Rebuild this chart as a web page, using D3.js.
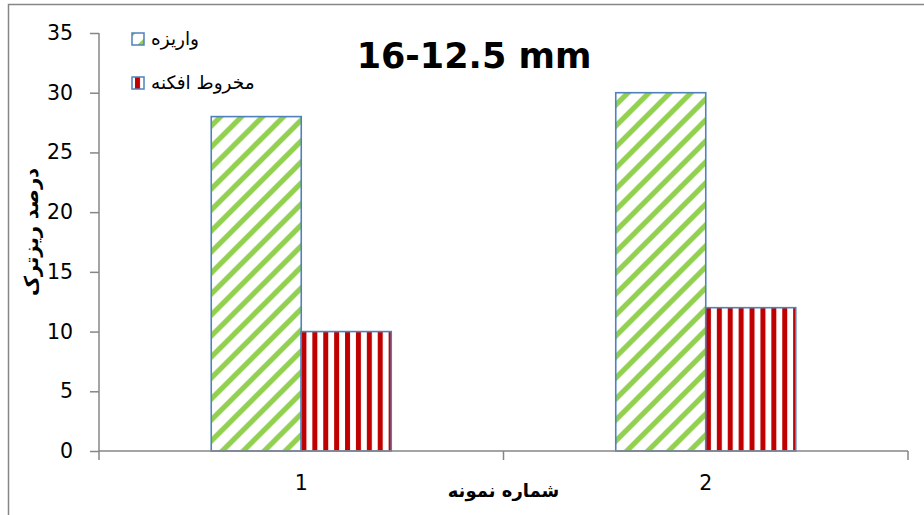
<!DOCTYPE html>
<html>
<head>
<meta charset="utf-8">
<script src="https://cdn.jsdelivr.net/npm/d3@7"></script>
<style>
  body { margin: 0; background: #fff; }
  svg { display: block; }
</style>
</head>
<body>
<svg id="chart" width="924" height="515"></svg>
<script>
// Sample numbers (x axis) and the two material series
const categories = ["1", "2"];
const seriesNames = ["واریزه", "مخروط افکنه"];
const varizehValues = [28, 30];
const makhrootValues = [10, 12];
const yTickValues = [0, 5, 10, 15, 20, 25, 30, 35];

const titleText = "16-12.5 mm";
const yAxisTitle = "درصد ریزترک";
const xAxisTitle = "شماره نمونه";

const seriesValues = [varizehValues, makhrootValues];
const rows = categories.map((c, i) => ({
  cat: c,
  vals: seriesNames.map((s, k) => ({ key: s, k, value: seriesValues[k][i] }))
}));

const svg = d3.select("#chart");
const W = 924, H = 515;
const plot = { left: 99, right: 908, top: 33, bottom: 451 };
const axisColor = "#868686";
const numFont = "'DejaVu Sans', sans-serif";
const arFont = "'DejaVu Sans', sans-serif";

// chart frame
svg.append("rect")
  .attr("x", 8.5).attr("y", 4.5)
  .attr("width", W + 20).attr("height", H + 20)
  .attr("fill", "#fff").attr("stroke", axisColor).attr("stroke-width", 1.5);

// fill patterns
const defs = svg.append("defs");
const green = defs.append("pattern")
  .attr("id", "diag").attr("patternUnits", "userSpaceOnUse")
  .attr("width", 21).attr("height", 21);
green.append("rect").attr("width", 21).attr("height", 21).attr("fill", "#fff");
green.append("path")
  .attr("d", "M-5.25,5.25 L5.25,-5.25 M0,21 L21,0 M15.75,26.25 L26.25,15.75")
  .attr("stroke", "#92D050").attr("stroke-width", 5.2);

const red = defs.append("pattern")
  .attr("id", "vert").attr("patternUnits", "userSpaceOnUse")
  .attr("width", 10.9).attr("height", 10);
red.append("rect").attr("width", 10.9).attr("height", 10).attr("fill", "#fff");
red.append("rect").attr("x", 3).attr("width", 5).attr("height", 10).attr("fill", "#C00000");

const fills = ["url(#diag)", "url(#vert)"];

// scales
const x = d3.scaleBand().domain(categories)
  .range([plot.left, plot.right])
  .paddingInner(0.555).paddingOuter(0.2775);
const xs = d3.scaleBand().domain(seriesNames).range([0, x.bandwidth()]);
const y = d3.scaleLinear().domain([0, 35]).range([plot.bottom, plot.top]);

// bars
const groups = svg.append("g").selectAll("g").data(rows).join("g")
  .attr("transform", d => `translate(${x(d.cat)},0)`);
groups.selectAll("rect").data(d => d.vals).join("rect")
  .attr("x", d => xs(d.key))
  .attr("y", d => y(d.value))
  .attr("width", xs.bandwidth())
  .attr("height", d => y(0) - y(d.value))
  .attr("fill", d => fills[d.k])
  .attr("stroke", "#4F81BD").attr("stroke-width", 1.6);

// y axis
const yAxis = svg.append("g")
  .attr("transform", `translate(${plot.left},0)`)
  .call(d3.axisLeft(y).tickValues(yTickValues).tickSize(9).tickPadding(17));
yAxis.selectAll("path, line").attr("stroke", axisColor).attr("stroke-width", 1.5);
yAxis.select(".domain").attr("d", `M0,${plot.top}V${plot.bottom}`);
yAxis.selectAll("text").attr("font-family", numFont).attr("font-size", 20.5).attr("fill", "#000");

// x axis: labels at centres, ticks on category boundaries
const xAxis = svg.append("g")
  .attr("transform", `translate(0,${plot.bottom})`)
  .call(d3.axisBottom(x).tickSize(0).tickPadding(24));
xAxis.select(".domain").attr("d", `M${plot.left},0H${plot.right}`)
  .attr("stroke", axisColor).attr("stroke-width", 1.5);
xAxis.selectAll("text").attr("font-family", numFont).attr("font-size", 20.5).attr("fill", "#000");
const bounds = d3.range(categories.length + 1).map(i => plot.left + i * x.step());
xAxis.selectAll("line.bound").data(bounds).join("line").attr("class", "bound")
  .attr("x1", d => d).attr("x2", d => d).attr("y1", 0).attr("y2", 9)
  .attr("stroke", axisColor).attr("stroke-width", 1.5);

// title
svg.append("text")
  .attr("x", 474).attr("y", 68).attr("text-anchor", "middle")
  .attr("font-family", "'DejaVu Sans', sans-serif").attr("font-weight", "bold")
  .attr("font-size", 35).text(titleText);

// axis titles
svg.append("text")
  .attr("transform", "translate(38,232) rotate(-90)")
  .attr("text-anchor", "middle").attr("direction", "rtl")
  .attr("font-family", arFont).attr("font-weight", "bold").attr("font-size", 19.5)
  .text(yAxisTitle);
svg.append("text")
  .attr("x", (plot.left + plot.right) / 2).attr("y", 497).attr("text-anchor", "middle")
  .attr("direction", "rtl")
  .attr("font-family", arFont).attr("font-weight", "bold").attr("font-size", 18)
  .text(xAxisTitle);

// legend
const legend = svg.append("g").selectAll("g").data(seriesNames).join("g")
  .attr("transform", (d, i) => `translate(132,${33 + i * 44})`);
legend.append("rect")
  .attr("width", 12).attr("height", 12)
  .attr("fill", (d, i) => fills[i])
  .attr("stroke", "#4F81BD").attr("stroke-width", 1.5);
legend.append("text")
  .attr("x", 19).attr("y", 12).attr("text-anchor", "start")
  .attr("font-family", arFont).attr("font-size", 18.5)
  .text(d => d);
</script>
</body>
</html>
